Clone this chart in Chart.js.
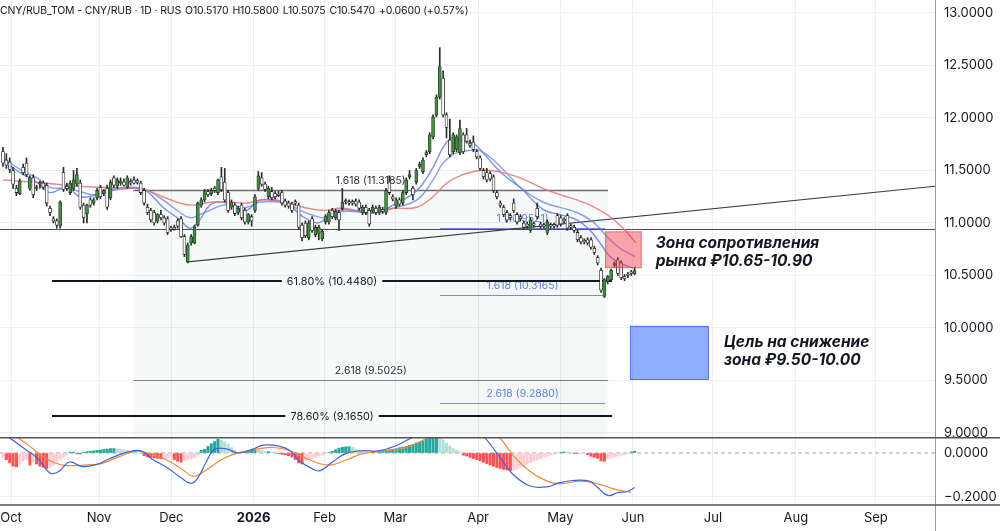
<!DOCTYPE html>
<html>
<head>
<meta charset="utf-8">
<script src="https://cdn.jsdelivr.net/npm/chart.js@4.4.1/dist/chart.umd.min.js"></script>
<style>
  body { margin: 0; background: #fff; }
  #wrap { position: relative; width: 1000px; height: 531px; overflow: hidden; background: #fff; }
  #p1 { position: absolute; left: 0; top: 0; }
  #p2 { position: absolute; left: 0; top: 437px; background: #fff; }
  #hdr { position: absolute; left: 0; top: 4px; font: 10.5px Inter, 'Noto Sans', sans-serif; color: #131722; white-space: pre; letter-spacing: -0.15px; }
  #hdr span { margin-left: 4px; }
</style>
</head>
<body>
<div id="wrap">
  <div id="p1"><canvas id="c1" width="1000" height="446"></canvas></div>
  <div id="p2"><canvas id="c2" width="1000" height="94"></canvas></div>
  <div id="hdr">CNY/RUB_TOM - CNY/RUB · 1D · RUS<span>O10.5170</span><span>H10.5800</span><span>L10.5075</span><span>C10.5470</span><span>+0.0600 (+0.57%)</span></div>
</div>
<script>
// daily candles, bar index 0 = late Sep 2025
const opens = [11.68,11.60,11.58,11.50,11.33,11.28,11.53,11.57,11.33,11.43,11.33,11.37,11.38,11.36,11.14,11.04,11.02,10.97,11.48,11.35,11.29,11.33,11.37,11.38,11.17,11.09,11.22,11.19,11.24,11.34,11.28,11.33,11.24,11.43,11.35,11.38,11.39,11.34,11.39,11.41,
  11.40,11.38,11.31,11.15,11.12,11.10,11.02,11.08,11.05,11.04,10.95,10.96,11.02,11.04,10.87,10.63,10.81,10.81,10.98,11.17,11.22,11.30,11.28,11.33,11.29,11.44,11.39,11.29,11.15,11.17,11.10,11.17,11.12,11.01,11.06,11.12,11.33,11.43,11.37,11.25,
  11.30,11.28,11.27,11.29,11.21,11.19,11.18,11.20,11.17,10.98,11.00,10.86,11.04,10.89,10.90,10.85,11.01,11.01,11.12,11.05,11.10,11.14,11.21,11.20,11.20,11.21,11.20,11.10,11.15,11.12,11.12,11.14,11.10,11.13,11.10,11.39,
  11.25,11.16,11.22,11.19,11.29,11.44,11.33,11.39,11.54,11.49,11.65,11.68,11.82,12.03,12.20,12.38,12.03,11.79,11.68,11.70,11.67,11.84,11.84,11.76,11.77,11.68,11.62,11.50,11.48,11.47,11.44,11.29,11.19,
  11.15,11.10,11.07,11.19,11.08,11.06,11.00,10.99,10.93,10.99,11.14,10.99,10.98,10.91,10.98,10.98,11.07,11.05,11.03,11.07,10.97,10.96,10.91,10.86,10.83,10.84,10.84,10.76,10.67,10.55,10.30,10.44,10.46,10.60,10.65,10.62,10.49,10.51,10.53,10.517];
const highs = [11.72,11.66,11.62,11.53,11.36,11.42,11.56,11.62,11.45,11.46,11.36,11.40,11.40,11.38,11.16,11.06,11.04,11.21,11.53,11.38,11.40,11.50,11.52,11.41,11.19,11.18,11.24,11.24,11.33,11.36,11.32,11.36,11.41,11.45,11.43,11.43,11.42,11.45,11.42,11.44,
  11.42,11.40,11.33,11.18,11.14,11.12,11.09,11.12,11.07,11.06,10.97,10.98,11.04,11.06,10.89,10.81,10.89,10.98,11.20,11.24,11.32,11.32,11.33,11.35,11.42,11.53,11.52,11.31,11.22,11.19,11.16,11.19,11.14,11.09,11.08,11.27,11.49,11.48,11.39,11.35,
  11.34,11.30,11.30,11.31,11.23,11.21,11.20,11.22,11.19,11.00,11.02,11.02,11.06,10.98,10.98,10.94,11.08,11.12,11.14,11.13,11.12,11.33,11.23,11.22,11.22,11.23,11.22,11.17,11.17,11.14,11.17,11.16,11.17,11.15,11.33,11.45,
  11.27,11.24,11.24,11.31,11.43,11.50,11.35,11.52,11.58,11.62,11.69,11.86,12.03,12.22,12.67,12.45,12.05,11.99,11.86,11.84,11.98,11.86,11.90,11.79,11.83,11.70,11.64,11.52,11.52,11.49,11.46,11.31,11.21,
  11.17,11.12,11.09,11.23,11.10,11.08,11.02,11.01,11.05,11.01,11.19,11.01,11.00,11.03,11.00,11.00,11.09,11.07,11.05,11.09,10.99,10.98,10.93,10.88,10.85,10.86,10.86,10.78,10.69,10.57,10.47,10.50,10.56,10.63,10.67,10.64,10.51,10.53,10.55,10.58];
const lows = [11.54,11.52,11.48,11.33,11.26,11.27,11.46,11.44,11.31,11.24,11.31,11.33,11.32,11.16,11.07,11.00,10.95,10.95,11.30,11.31,11.27,11.31,11.35,11.13,11.00,11.00,11.15,11.17,11.22,11.23,11.26,11.13,11.22,11.34,11.33,11.36,11.35,11.33,11.36,11.37,
  11.37,11.27,11.17,11.08,11.01,10.98,11.00,11.03,10.98,10.89,10.92,10.93,10.95,10.86,10.68,10.62,10.79,10.80,10.97,11.15,11.20,11.25,11.26,11.29,11.27,11.30,11.20,11.10,11.13,11.07,11.08,11.03,10.99,10.99,10.97,11.10,11.31,11.35,11.30,11.23,
  11.22,11.23,11.25,11.17,11.15,11.14,11.10,11.17,10.94,10.83,10.86,10.84,10.91,10.87,10.84,10.83,10.99,10.99,11.04,11.03,10.93,11.12,11.18,11.17,11.17,11.16,11.12,11.08,11.08,10.97,11.10,11.08,11.08,11.09,11.08,11.27,
  11.21,11.14,11.16,11.17,11.27,11.42,11.22,11.37,11.52,11.47,11.63,11.66,11.80,12.01,12.18,12.01,11.81,11.63,11.66,11.68,11.65,11.66,11.76,11.72,11.68,11.61,11.50,11.42,11.39,11.40,11.29,11.23,11.15,
  11.06,11.01,11.03,11.10,10.99,11.02,10.94,10.95,10.91,10.96,11.04,10.95,10.95,10.89,10.95,10.95,10.96,10.97,11.00,10.93,10.94,10.91,10.82,10.80,10.80,10.79,10.75,10.70,10.60,10.34,10.29,10.42,10.44,10.58,10.50,10.46,10.45,10.48,10.50,10.5075];
const closes = [11.57,11.55,11.51,11.37,11.29,11.40,11.48,11.46,11.43,11.27,11.34,11.38,11.34,11.19,11.10,11.02,10.98,11.20,11.32,11.33,11.38,11.41,11.46,11.15,11.05,11.17,11.17,11.22,11.31,11.25,11.31,11.15,11.39,11.36,11.41,11.40,11.36,11.43,11.38,11.38,
  11.39,11.29,11.19,11.10,11.03,11.00,11.08,11.05,11.00,10.91,10.94,10.94,10.97,10.87,10.70,10.79,10.87,10.96,11.19,11.22,11.30,11.27,11.31,11.31,11.41,11.32,11.22,11.12,11.20,11.09,11.14,11.05,11.01,11.08,11.02,11.25,11.45,11.37,11.32,11.33,
  11.24,11.25,11.26,11.19,11.17,11.16,11.12,11.19,10.96,10.86,10.88,11.00,10.93,10.96,10.96,10.92,11.06,11.10,11.06,11.11,11.03,11.20,11.20,11.19,11.19,11.18,11.14,11.15,11.10,10.99,11.15,11.10,11.15,11.11,11.31,11.29,
  11.23,11.22,11.18,11.29,11.41,11.46,11.27,11.50,11.56,11.60,11.67,11.84,12.01,12.20,12.49,12.03,11.91,11.65,11.84,11.82,11.90,11.68,11.78,11.74,11.70,11.63,11.52,11.44,11.41,11.42,11.31,11.25,11.17,
  11.08,11.03,11.05,11.12,11.01,11.04,10.96,10.97,11.03,10.98,11.06,10.97,10.97,11.01,10.97,10.97,10.98,10.99,11.02,10.95,10.96,10.93,10.84,10.82,10.82,10.81,10.77,10.72,10.62,10.36,10.46,10.49,10.55,10.62,10.52,10.48,10.47,10.50,10.52,10.547];

// moving averages: [bar index, price]
const fastMa = [[0,11.60],[5.1,11.48],[10.1,11.39],[14,11.29],[19,11.34],[22.9,11.25],[26.8,11.26],[31,11.31],[38.7,11.34],[42.9,11.30],[47.6,11.15],[52.7,11.03],[55.7,10.95],[58.6,11.03],[61.6,11.17],[65.5,11.20],[69.6,11.14],[72.6,11.12],[76.5,11.22],[84.5,11.19],[88.4,11.08],[93.5,11.00],[96.4,11.05],[99.4,11.12],[104.2,11.12],[109.2,11.09],[113.1,11.12],[116.1,11.17],[123.2,11.31],[128,11.53],[131,11.72],[133.6,11.81],[136,11.79],[139.9,11.76],[142.9,11.67],[147,11.52],[150.9,11.41],[153.9,11.34],[160.7,11.13],[165.8,11.08],[170.8,11.03],[174.7,10.93],[177.7,10.81],[180.7,10.68],[183.6,10.62],[187.5,10.57]];
const slowMa = [[0,11.62],[5.1,11.51],[10.1,11.43],[14,11.34],[19,11.33],[22.9,11.30],[26.8,11.27],[31,11.30],[38.7,11.33],[42.9,11.31],[47.6,11.22],[52.7,11.10],[55.7,11.05],[58.6,11.08],[61.6,11.12],[65.5,11.17],[69.6,11.16],[72.6,11.15],[76.5,11.20],[84.5,11.19],[88.4,11.12],[93.5,11.06],[96.4,11.05],[99.4,11.10],[104.2,11.11],[109.2,11.10],[113.1,11.11],[116.1,11.14],[123.2,11.22],[128,11.41],[131,11.57],[135.1,11.67],[139,11.69],[142,11.69],[147,11.57],[151.8,11.41],[153.9,11.34],[160.7,11.20],[170.8,11.10],[175.6,11.01],[179.8,10.87],[183.6,10.76],[188.1,10.68]];
const longMa = [[0,11.41],[8.9,11.39],[19,11.36],[28.9,11.34],[38.7,11.33],[42.9,11.31],[47.6,11.25],[52.7,11.19],[56.5,11.17],[62.5,11.20],[67.6,11.20],[72.6,11.19],[77.4,11.22],[84.5,11.19],[89.3,11.15],[95.2,11.12],[100.3,11.14],[106.3,11.12],[111.3,11.12],[116.1,11.14],[123.2,11.15],[128,11.25],[132.1,11.38],[136.9,11.46],[142,11.50],[144.9,11.50],[148.8,11.48],[153.9,11.43],[160.7,11.33],[165.8,11.27],[170.8,11.22],[174.7,11.17],[180.7,11.06],[185.1,10.93],[188.4,10.81]];

// MACD panel
const macdLine = [[0,0.09],[1.6,0.073],[6.6,0.0175],[10.4,-0.026],[14.1,-0.092],[16.6,-0.084],[19.8,-0.041],[23.5,-0.062],[27.9,-0.052],[31.7,-0.026],[36.7,0.003],[41.1,0.010],[44.2,-0.026],[49.2,-0.070],[53,-0.113],[56.1,-0.138],[58,-0.113],[60.5,-0.041],[63,0.0175],[66.8,0.0175],[69.9,0],[74.3,0.0175],[77.4,0.036],[81.8,0.032],[85.5,0.010],[88,-0.033],[91.8,-0.070],[94.3,-0.081],[98.1,-0.041],[101.8,-0.004],[106.8,0.010],[111.8,0.010],[116.8,0.032],[120.6,0.061],[123.1,0.083],[130,0.16],[138,0.14],[143.2,0.073],[148.2,-0.026],[151.9,-0.099],[156.9,-0.150],[161.9,-0.154],[165.7,-0.135],[169.5,-0.125],[174.5,-0.128],[177,-0.157],[180.1,-0.193],[183.2,-0.179],[185.7,-0.176],[188,-0.157]];
const signalLine = [[0,0.11],[4.1,0.073],[9.1,0.0175],[12.9,-0.026],[17.9,-0.055],[24.2,-0.055],[29.2,-0.048],[34.2,-0.019],[39.2,0.007],[42.3,0.003],[48,-0.026],[53,-0.070],[56.7,-0.106],[60.5,-0.077],[65.5,-0.026],[70.5,0.003],[75.5,0.0175],[80.5,0.025],[85.5,0.010],[90.5,-0.026],[96.8,-0.055],[101.8,-0.034],[106.8,-0.004],[111.8,0.006],[118.1,0.0175],[123.1,0.044],[126.9,0.073],[135,0.13],[142,0.11],[147.5,0.073],[151.9,-0.012],[156.9,-0.084],[161.9,-0.128],[165.7,-0.140],[171.9,-0.128],[177,-0.140],[182,-0.164],[187,-0.179]];
const histValues = [-0.02,-0.03,-0.045,-0.06,-0.062,-0.05,-0.035,-0.03,-0.055,-0.04,-0.05,-0.06,-0.065,-0.07,-0.068,-0.055,-0.04,-0.03,-0.02,-0.01,
  0.004,0.004,-0.004,-0.005,0.003,0.006,0.008,0.01,0.012,0.013,0.016,0.018,0.02,0.02,0.019,0.017,0.014,0.011,0.008,0.005,
  0.002,0,-0.012,-0.018,-0.02,-0.022,-0.024,-0.026,-0.024,-0.02,-0.018,-0.03,-0.038,-0.042,-0.036,-0.03,-0.028,-0.02,-0.01,0.012,
  0.017,0.03,0.042,0.052,0.062,0.058,0.05,0.04,0.025,0.012,0.004,0.002,0.003,0.008,0.014,0.016,0.015,0.01,0.006,0.006,
  0.005,0.004,-0.003,-0.006,-0.008,-0.012,-0.018,-0.03,-0.045,-0.05,-0.035,-0.03,-0.025,-0.02,-0.015,-0.01,-0.004,0.002,0.008,0.015,
  0.022,0.026,0.028,0.029,0.026,0.018,0.012,0.008,0.005,0.004,0.006,0.005,0.007,0.01,0.012,0.015,0.017,0.02,0.024,0.027,
  0.03,0.035,0.04,0.046,0.05,0.055,0.062,0.07,0.08,0.085,0.08,0.06,0.045,0.032,0.02,0.012,0.006,-0.01,-0.014,-0.02,
  -0.025,-0.03,-0.036,-0.042,-0.048,-0.055,-0.06,-0.066,-0.07,-0.074,-0.077,-0.08,-0.078,-0.072,-0.065,-0.058,-0.05,-0.044,-0.038,-0.032,
  -0.026,-0.02,-0.015,-0.01,-0.006,-0.003,0.003,0.005,0.004,0.003,-0.001,-0.002,-0.002,-0.001,-0.008,-0.015,-0.02,-0.024,-0.036,-0.038,
  -0.026,-0.022,-0.018,-0.014,-0.01,-0.007,-0.004,0.005,0.008];

// axes
const monthPos = [2.4,28.6,50.1,74.6,95.7,116.8,141.4,165.9,187.5,211.3,236,259.8];
const monthNames = ['Oct','Nov','Dec','2026','Feb','Mar','Apr','May','Jun','Jul','Aug','Sep'];
const priceTicks = [9,9.5,10,10.5,11,11.5,12,12.5,13];
const macdTicks = [-0.2, 0];

// drawings (bar index / price)
const extASpan = [38.8, 180.1];
const extARatios = ['1.618', '2.618'];
const extAPrices = [11.3185, 9.5025];
const extBSpan = [130.1, 179.2];
const extBRatios = ['1', '1.618', '2.618'];
const extBPrices = [10.9521, 10.3165, 9.2880];
const retrSpan = [14.6, 181.3];
const retrRatios = ['61.80%', '78.60%'];
const retrPrices = [10.4480, 9.1650];
const flatLevel = 10.94;
const trendPts = [[55, 10.63], [277.4, 11.35]];
const resistZone = [179.2, 190.1, 10.57, 10.92];
const targetZone = [186.6, 210.1, 9.505, 10.02];
const resistText = ['Зона сопротивления', 'рынка ₽10.65-10.90'];
const targetText = ['Цель на снижение', 'зона ₽9.50-10.00'];
const resistAt = [194.3, 10.81];
const targetAt = [214.6, 9.867];

const FONT = "Inter, 'Noto Sans', 'DejaVu Sans', sans-serif";
const GRID = '#eceef2';
const X_MIN = -0.893, X_MAX = 277.4;

function seg(ctx, x1, y1, x2, y2, color, w) {
  ctx.strokeStyle = color; ctx.lineWidth = w;
  ctx.beginPath(); ctx.moveTo(x1, y1); ctx.lineTo(x2, y2); ctx.stroke();
}

const drawings = {
  id: 'drawings',
  beforeDatasetsDraw(chart) {
    const {ctx, chartArea: a, scales: {x, y}} = chart;
    const X = v => x.getPixelForValue(v), Y = v => y.getPixelForValue(v);
    ctx.save();
    ctx.beginPath(); ctx.rect(a.left, a.top, a.right - a.left, a.bottom - a.top); ctx.clip();
    // fib extension areas
    ctx.fillStyle = 'rgba(125,128,140,0.05)';
    ctx.fillRect(X(extASpan[0]), Y(extAPrices[0]), X(extASpan[1]) - X(extASpan[0]), a.bottom - Y(extAPrices[0]));
    ctx.fillStyle = 'rgba(125,128,140,0.02)';
    ctx.fillRect(X(extBSpan[0]), Y(extBPrices[0]), X(extBSpan[1]) - X(extBSpan[0]), a.bottom - Y(extBPrices[0]));

    ctx.textAlign = 'center'; ctx.textBaseline = 'bottom';
    ctx.font = '10.5px ' + FONT;
    const midA = (X(extASpan[0]) + X(extASpan[1])) / 2;
    extAPrices.forEach((p, k) => {
      const yy = Math.round(Y(p)) + 0.5;
      seg(ctx, X(extASpan[0]), yy, X(extASpan[1]), yy, k === 0 ? '#6a6d78' : '#7d808a', k === 0 ? 1.6 : 1);
      ctx.fillStyle = '#2a2e39';
      ctx.fillText(extARatios[k] + ' (' + p.toFixed(4) + ')', midA, yy - 4);
    });
    const midB = (X(extBSpan[0]) + X(extBSpan[1])) / 2;
    extBPrices.forEach((p, k) => {
      const yy = Math.round(Y(p)) + 0.5;
      seg(ctx, X(extBSpan[0]), yy, X(extBSpan[1]), yy, '#6f8fdc', 1);
      ctx.fillStyle = '#5d7fd6';
      ctx.fillText(extBRatios[k] + ' (' + p.toFixed(4) + ')', midB, yy - 4);
    });

    // horizontal level and trend line
    const fy = Math.round(Y(flatLevel)) + 0.5;
    seg(ctx, a.left, fy, a.right, fy, '#4a4d57', 1.2);
    seg(ctx, X(trendPts[0][0]), Y(trendPts[0][1]), X(trendPts[1][0]), Y(trendPts[1][1]), '#3a3d45', 1.1);

    // retracement levels with centred labels
    ctx.font = '10.8px ' + FONT; ctx.textBaseline = 'middle';
    const x1 = X(retrSpan[0]), x2 = X(retrSpan[1]);
    const rmid = (x1 + x2) / 2;
    retrPrices.forEach((p, k) => {
      const yy = Math.round(Y(p));
      const txt = retrRatios[k] + ' (' + p.toFixed(4) + ')';
      const w = ctx.measureText(txt).width;
      seg(ctx, x1, yy, rmid - w / 2 - 5, yy, '#131722', 2);
      seg(ctx, rmid + w / 2 + 5, yy, x2, yy, '#131722', 2);
      ctx.fillStyle = '#131722';
      ctx.fillText(txt, rmid, yy + 0.5);
    });
    ctx.restore();
  },
  afterDatasetsDraw(chart) {
    const {ctx, chartArea: a, scales: {x, y}} = chart;
    const X = v => x.getPixelForValue(v), Y = v => y.getPixelForValue(v);
    ctx.save();
    const box = (z, fill, edge) => {
      const l = X(z[0]), r = X(z[1]), t = Y(z[3]), b = Y(z[2]);
      ctx.fillStyle = fill; ctx.fillRect(l, t, r - l, b - t);
      ctx.strokeStyle = edge; ctx.lineWidth = 1; ctx.strokeRect(l + 0.5, t + 0.5, r - l - 1, b - t - 1);
    };
    box(resistZone, 'rgba(242,54,69,0.45)', 'rgba(230,70,80,0.6)');
    box(targetZone, 'rgba(41,98,255,0.52)', 'rgba(41,80,220,0.6)');
    ctx.font = 'italic 700 15.5px ' + FONT;
    ctx.fillStyle = '#131722'; ctx.textAlign = 'left'; ctx.textBaseline = 'middle';
    resistText.forEach((t, k) => ctx.fillText(t, X(resistAt[0]), Y(resistAt[1]) + k * 18));
    targetText.forEach((t, k) => ctx.fillText(t, X(targetAt[0]), Y(targetAt[1]) + k * 18));
    ctx.restore();
  },
  afterDraw(chart) {
    const {ctx, chartArea: a} = chart;
    ctx.save();
    seg(ctx, a.right + 0.5, 0, a.right + 0.5, chart.height, '#9a9da6', 1);
    ctx.restore();
  }
};

const idx = closes.map((_, i) => i);
const upBar = idx.map(i => closes[i] >= opens[i]);

new Chart(document.getElementById('c1'), {
  type: 'bar',
  data: {
    datasets: [
      {
        type: 'bar', order: 0, grouped: false,
        data: idx.map(i => ({x: i, y: [opens[i], closes[i]]})),
        backgroundColor: upBar.map(u => u ? '#4a8c4b' : '#ffffff'),
        borderColor: upBar.map(u => u ? '#1f3f1f' : '#262626'),
        borderWidth: 0.8, borderSkipped: false, barThickness: 3, minBarLength: 1.5
      },
      {
        type: 'bar', order: 1, grouped: false,
        data: idx.map(i => ({x: i, y: [lows[i], highs[i]]})),
        backgroundColor: '#2b2b2b', barThickness: 1
      },
      { type: 'line', order: 2, data: longMa.map(p => ({x: p[0], y: p[1]})), borderColor: 'rgba(229,115,115,0.85)', borderWidth: 1.4, pointRadius: 0, tension: 0.4 },
      { type: 'line', order: 3, data: slowMa.map(p => ({x: p[0], y: p[1]})), borderColor: 'rgba(95,130,225,0.75)', borderWidth: 1.4, pointRadius: 0, tension: 0.4 },
      { type: 'line', order: 4, data: fastMa.map(p => ({x: p[0], y: p[1]})), borderColor: 'rgba(85,120,225,0.8)', borderWidth: 1.4, pointRadius: 0, tension: 0.4 }
    ]
  },
  options: {
    responsive: false, animation: false,
    layout: { padding: { left: 0, right: 0, top: 0, bottom: 9 } },
    plugins: { legend: { display: false }, tooltip: { enabled: false } },
    scales: {
      x: {
        type: 'linear', min: X_MIN, max: X_MAX, offset: false,
        grid: { offset: false, color: GRID, drawTicks: false },
        border: { display: false }, ticks: { display: false },
        afterBuildTicks: s => { s.ticks = monthPos.map(v => ({value: v})); },
        afterFit: s => { s.height = 0; s.paddingLeft = 0; s.paddingRight = 0; }
      },
      y: {
        position: 'right', min: 8.9619, max: 13.1238,
        grid: { color: GRID, drawTicks: false }, border: { display: false },
        ticks: { padding: 9, color: '#131722', font: { family: FONT, size: 13 }, callback: v => Number(v).toFixed(4) },
        afterBuildTicks: s => { s.ticks = priceTicks.map(v => ({value: v})); },
        afterFit: s => { s.width = 65; s.paddingTop = 0; s.paddingBottom = 0; }
      }
    }
  },
  plugins: [drawings]
});

const histColors = histValues.map((v, i) => {
  const prev = i > 0 ? histValues[i - 1] : v;
  if (v >= 0) return v >= prev ? '#26a69a' : '#b2dfdb';
  return v < prev ? '#ff5252' : '#ffcdd2';
});

const panelLines = {
  id: 'panelLines',
  afterDraw(chart) {
    const {ctx, chartArea: a} = chart;
    ctx.save();
    seg(ctx, a.right + 0.5, 0, a.right + 0.5, chart.height, '#9a9da6', 1);
    seg(ctx, 0, 0.75, chart.width, 0.75, '#50535e', 1.5);
    seg(ctx, 0, a.bottom, chart.width, a.bottom, '#50535e', 1.5);
    ctx.restore();
  }
};

new Chart(document.getElementById('c2'), {
  type: 'bar',
  data: {
    datasets: [
      { type: 'bar', order: 2, grouped: false, data: idx.map(i => ({x: i, y: histValues[i]})), backgroundColor: histColors, barThickness: 2.4 },
      { type: 'line', order: 0, data: macdLine.map(p => ({x: p[0], y: p[1]})), borderColor: '#3f63dc', borderWidth: 1.2, pointRadius: 0, tension: 0.4 },
      { type: 'line', order: 1, data: signalLine.map(p => ({x: p[0], y: p[1]})), borderColor: '#ef8a35', borderWidth: 1.2, pointRadius: 0, tension: 0.4 },
      { type: 'line', order: 3, data: [{x: X_MIN, y: 0}, {x: X_MAX, y: 0}], borderColor: '#a3a6af', borderWidth: 1, borderDash: [4, 3], pointRadius: 0 }
    ]
  },
  options: {
    responsive: false, animation: false,
    layout: { padding: 0 },
    plugins: { legend: { display: false }, tooltip: { enabled: false } },
    scales: {
      x: {
        type: 'linear', min: X_MIN, max: X_MAX, offset: false,
        grid: { offset: false, color: GRID, drawTicks: false }, border: { display: false },
        ticks: {
          padding: 5, color: '#131722', maxRotation: 0, autoSkip: false,
          font: c => ({ family: FONT, size: 13, weight: monthNames[c.index] === '2026' ? '700' : '400' }),
          callback: (v, i) => monthNames[i]
        },
        afterBuildTicks: s => { s.ticks = monthPos.map(v => ({value: v})); },
        afterFit: s => { s.height = 26; s.paddingLeft = 0; s.paddingRight = 0; }
      },
      y: {
        position: 'right', min: -0.2364, max: 0.0727,
        grid: { color: c => (c.tick && c.tick.value === 0) ? 'rgba(0,0,0,0)' : GRID, drawTicks: false }, border: { display: false },
        ticks: { padding: 9, color: '#131722', font: { family: FONT, size: 13 }, callback: v => (v < 0 ? '\u2212' : '') + Math.abs(v).toFixed(4) },
        afterBuildTicks: s => { s.ticks = macdTicks.map(v => ({value: v})); },
        afterFit: s => { s.width = 65; s.paddingTop = 0; s.paddingBottom = 0; }
      }
    }
  },
  plugins: [panelLines]
});
</script>
</body>
</html>
